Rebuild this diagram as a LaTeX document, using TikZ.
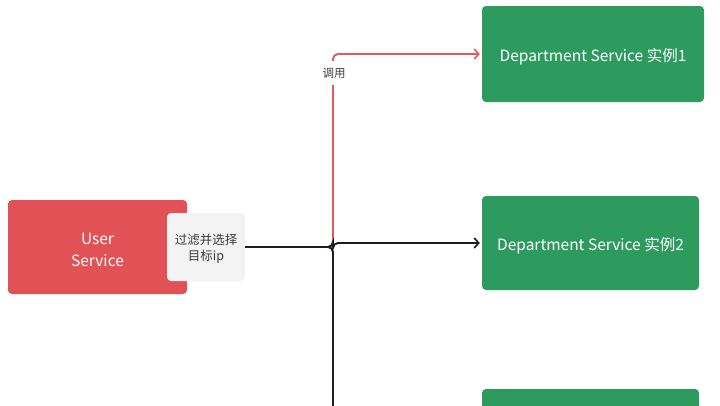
\documentclass[tikz,border=0pt]{standalone}
\usepackage{fontspec}
\setmainfont{Noto Sans CJK SC}
\usetikzlibrary{arrows.meta}
\definecolor{boxred}{RGB}{224,82,86}
\definecolor{boxgreen}{RGB}{46,155,94}
\definecolor{filtergray}{RGB}{243,243,243}
\definecolor{linered}{RGB}{229,89,92}
\definecolor{linedark}{RGB}{30,30,30}
\definecolor{textgray}{RGB}{60,60,60}
\tikzset{
  svcbox/.style={rounded corners=4pt, minimum width=#1, inner sep=0pt, align=center, text=white},
  redbox/.style={svcbox=179pt, fill=boxred, minimum height=94pt, font=\fontsize{15.5}{22}\selectfont},
  greenbox/.style={svcbox=#1, fill=boxgreen, font=\fontsize{15.5}{18}\selectfont, text height=15pt, text depth=0pt},
  filterbox/.style={rounded corners=4pt, fill=filtergray, minimum width=78pt, minimum height=68pt, inner sep=0pt, align=center, text=textgray, font=\fontsize{12.5}{16}\selectfont},
  conn/.style={line width=1.9pt, rounded corners=5pt, -{Straight Barb[length=4.5pt,width=10pt,line width=1.6pt]}},
  redconn/.style={conn, draw=linered},
  darkconn/.style={conn, draw=linedark},
  lbl/.style={fill=white, text=textgray, font=\fontsize{11.5}{13}\selectfont, inner xsep=2pt, inner ysep=7pt}
}
\begin{document}
\begin{tikzpicture}[x=1pt,y=-1pt]
\useasboundingbox[fill=white] (0,0) rectangle (720,405);
\node[redbox] (us) at (97.5,247) {\rule{0pt}{17pt}User\\Service};
\node[filterbox] (f) at (206,247) {\rule{0pt}{14pt}过滤并选择\\目标ip};
\node[greenbox=222pt, minimum height=96pt] (d1) at (593,54) {Department Service 实例1};
\node[greenbox=217pt, minimum height=94pt] (d2) at (590.5,243) {Department Service 实例2};
\node[greenbox=217pt, minimum height=94pt] (d3) at (590.5,436) {};
\coordinate (j) at (333,247);
\coordinate (bot) at (333,430);
\draw[redconn] (f.east) -- (j) |- ([xshift=-2pt]d1.west);
\draw[darkconn,-] (f.east) -- (j) -- (bot);
\draw[darkconn] (f.east) -- (j) |- ([xshift=-2pt]d2.west);
\node[lbl] (l) at (334,73) {调用};
\end{tikzpicture}
\end{document}
